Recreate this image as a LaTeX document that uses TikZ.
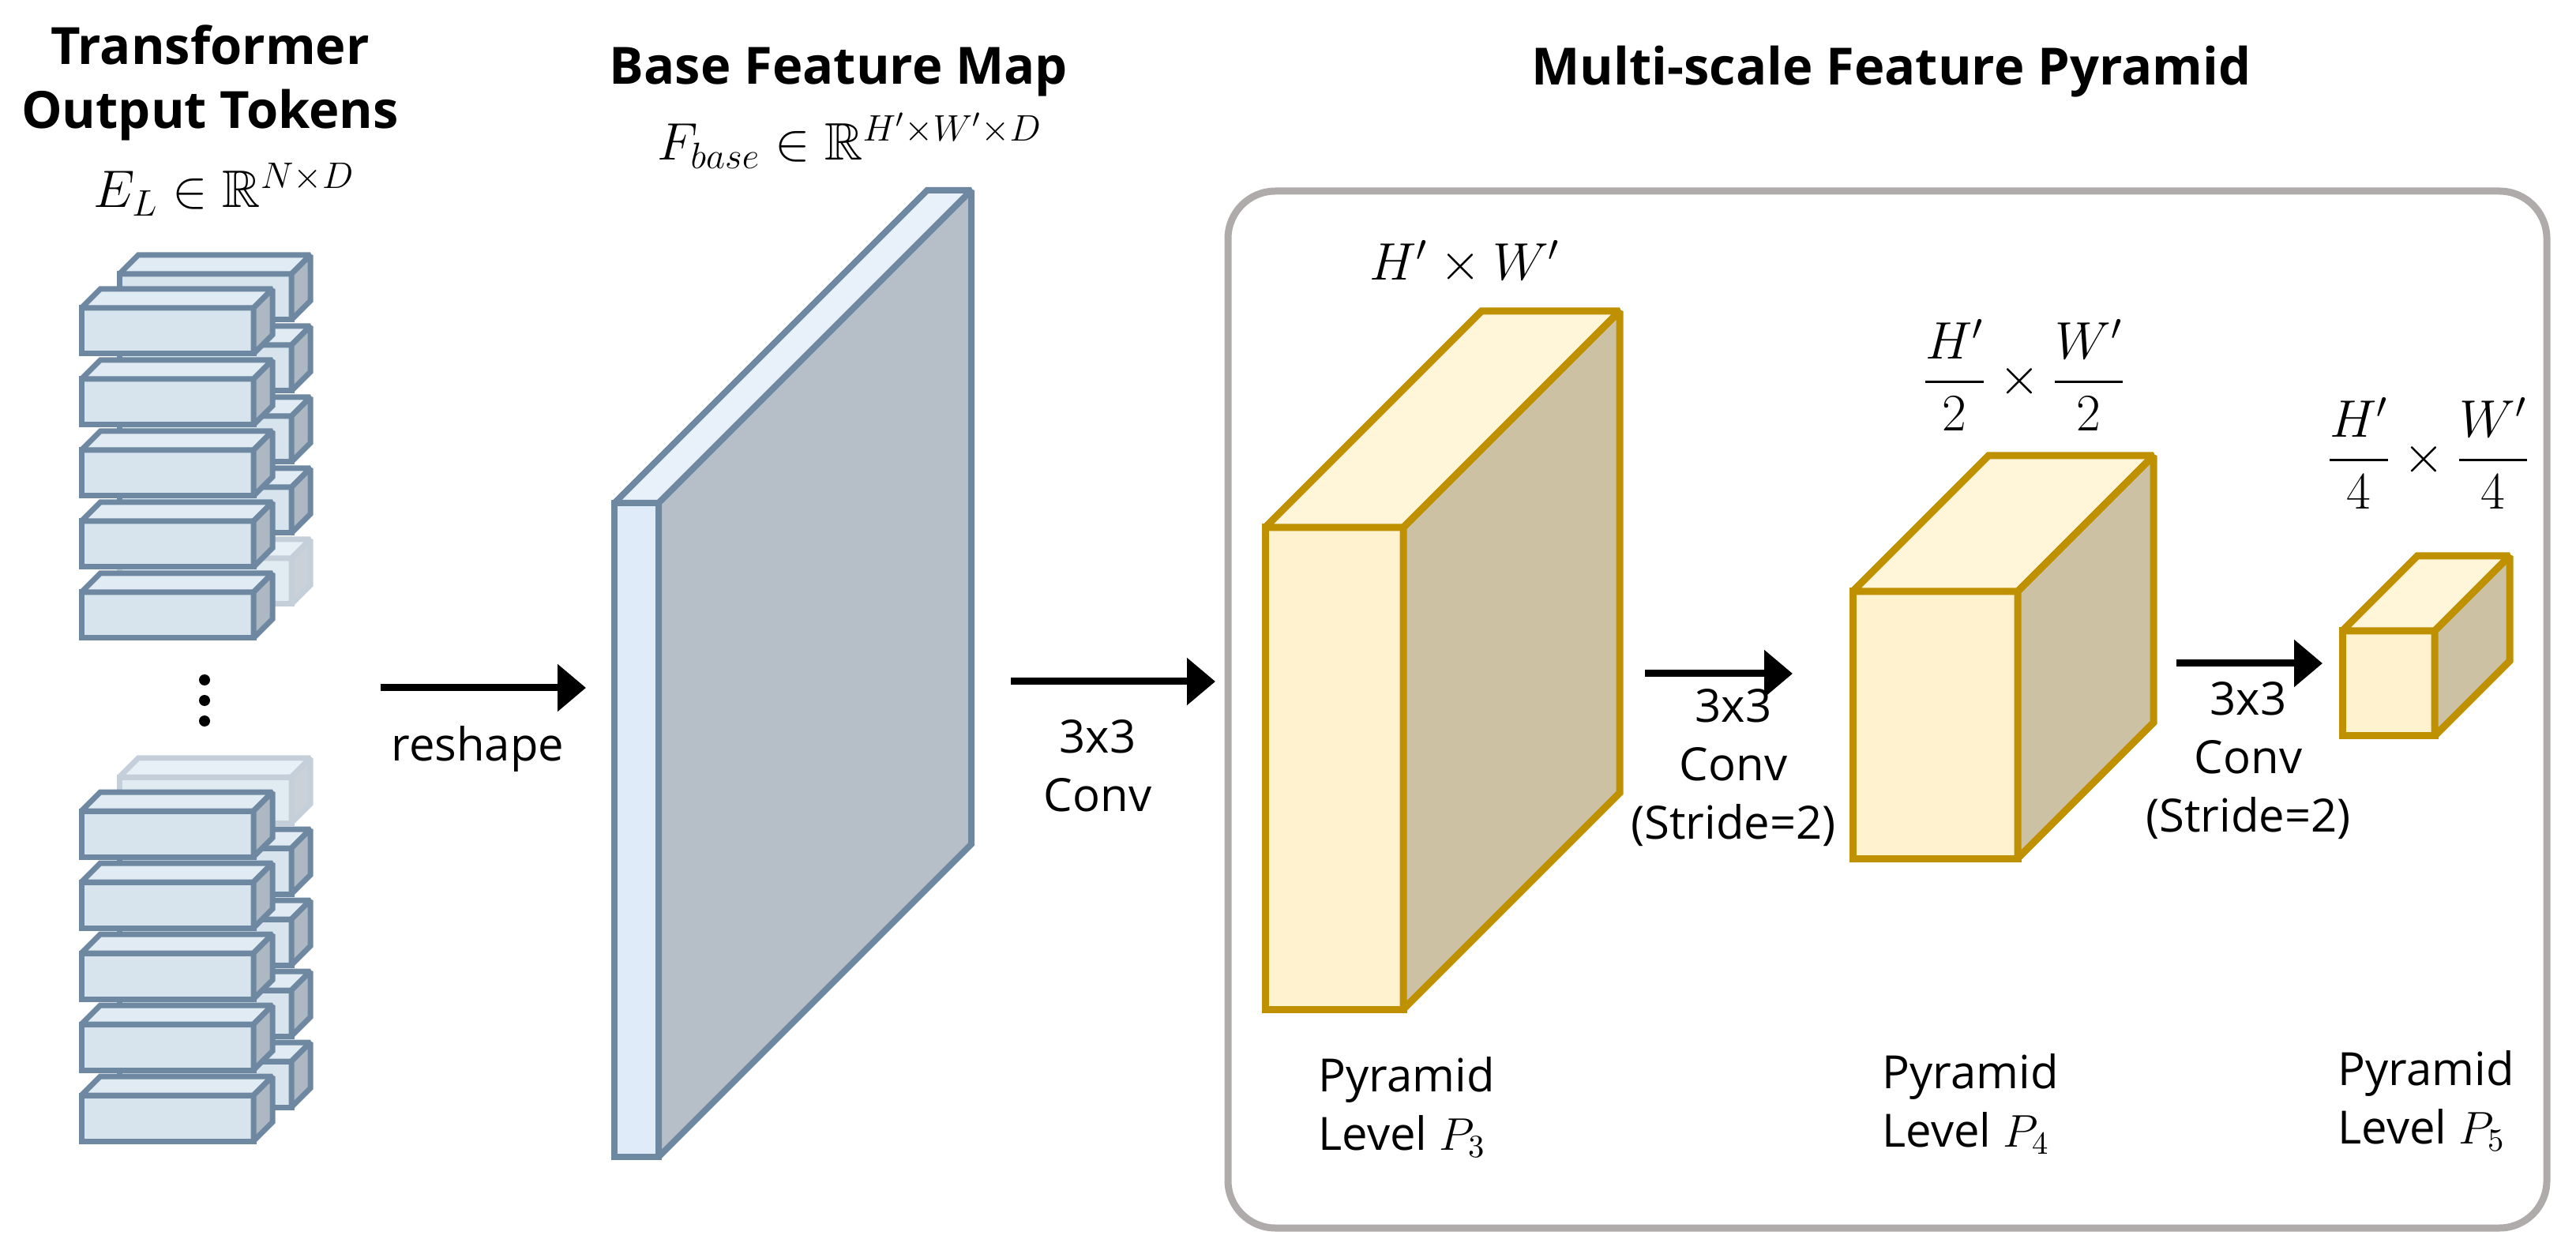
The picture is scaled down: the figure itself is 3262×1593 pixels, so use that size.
\documentclass[tikz,border=0pt]{standalone}
\usepackage{fix-cm}
\usepackage{amsmath,amssymb}
\usepackage[no-math]{fontspec}
\setmainfont{Open Sans}
\usetikzlibrary{arrows.meta}

\definecolor{tokline}{HTML}{6F88A1}
\definecolor{tokfront}{HTML}{D7E4EE}
\definecolor{toktop}{HTML}{E1EBF4}
\definecolor{tokside}{HTML}{ADB8C3}
\definecolor{mapfront}{HTML}{DFEBF8}
\definecolor{maptop}{HTML}{E8F0F9}
\definecolor{mapside}{HTML}{B6BEC7}
\definecolor{pyrline}{HTML}{BF9000}
\definecolor{pyrfront}{HTML}{FFF2CF}
\definecolor{pyrtop}{HTML}{FFF5D9}
\definecolor{pyrside}{HTML}{CCC2A3}
\definecolor{boxline}{HTML}{AFABAB}

\tikzset{
  face/.style={miter limit=2},
  tok front/.style={face, draw=tokline, fill=tokfront, line width=0.7mm},
  tok top/.style={face, draw=tokline, fill=toktop, line width=0.7mm},
  tok side/.style={face, draw=tokline, fill=tokside, line width=0.7mm},
  fad front/.style={face, draw=tokline!40, fill=tokfront!75, line width=0.7mm},
  fad top/.style={face, draw=tokline!40, fill=toktop!75, line width=0.7mm},
  fad side/.style={face, draw=tokline!40, fill=tokside!65, line width=0.7mm},
  map front/.style={face, draw=tokline, fill=mapfront, line width=0.8mm},
  map top/.style={face, draw=tokline, fill=maptop, line width=0.8mm},
  map side/.style={face, draw=tokline, fill=mapside, line width=0.8mm},
  pyr front/.style={face, draw=pyrline, fill=pyrfront, line width=0.9mm},
  pyr top/.style={face, draw=pyrline, fill=pyrtop, line width=0.9mm},
  pyr side/.style={face, draw=pyrline, fill=pyrside, line width=0.9mm},
  flow/.style={-{Triangle[length=3.6mm,width=5.8mm]}, line width=0.9mm},
  ttl/.style={font=\fontsize{18.5}{22.8}\selectfont\bfseries, align=center, inner sep=0pt},
  lbl/.style={font=\fontsize{16.5}{21}\selectfont, align=center, inner sep=0pt},
  mth/.style={font=\fontsize{19}{22}\selectfont, inner sep=0pt}
}

% style prefix, x, y (front top left), width, height, depth
\newcommand{\cuboid}[6]{%
  \draw[#1 front] (#2,#3) rectangle ++(#4,#5);
  \draw[#1 top] (#2,#3) -- ++(#6,-#6) -- ++(#4,0) -- ++(-#6,#6) -- cycle;
  \draw[#1 side] (#2+#4,#3) -- ++(#6,-#6) -- ++(0,#5) -- ++(-#6,#6) -- cycle;
}

\begin{document}
\begin{tikzpicture}[x=0.1mm, y=-0.1mm]
\useasboundingbox (0,0) rectangle (3262,1593);

% titles
\node[ttl] (ttok) at (266,105) {Transformer\\Output Tokens};
\node[mth, anchor=base] (etok) at (284,263) {$E_L\in\mathbb{R}^{N\times D}$};
\node[ttl, anchor=base] (tmap) at (1062,107) {Base Feature Map};
\node[mth, anchor=base] (emap) at (1076,203) {$F_{base}\in\mathbb{R}^{H'\times W'\times D}$};
\node[ttl, anchor=base] (tpyr) at (2395,108) {Multi-scale Feature Pyramid};

% token stacks
\foreach \k in {0,...,3} {\cuboid{tok}{151}{347+90*\k}{218}{58}{24}}
\cuboid{fad}{151}{707}{218}{58}{24}
\foreach \k in {0,...,4} {\cuboid{tok}{103}{390+90*\k}{218}{58}{24}}
\foreach \y in {861,887,913} \fill (259,\y) circle[radius=7];
\cuboid{fad}{151}{984}{218}{58}{24}
\foreach \k in {1,...,4} {\cuboid{tok}{151}{984+90*\k}{218}{58}{24}}
\foreach \k in {0,...,4} {\cuboid{tok}{103}{1027+90*\k}{218}{58}{24}}

% base feature map
\cuboid{map}{778}{637}{56}{828}{396}

% pyramid
\draw[boxline, line width=0.9mm, rounded corners=6mm] (1555,242) rectangle (3225,1555);
\cuboid{pyr}{1602}{668}{175}{610}{274}
\cuboid{pyr}{2346}{749}{209}{338}{172}
\cuboid{pyr}{2966}{799}{117}{133}{95}

\node[mth, anchor=base] (sp3) at (1855,355) {$H'\times W'$};
\node[mth, anchor=base] (sp4) at (2563,500) {$\dfrac{H'}{2}\times\dfrac{W'}{2}$};
\node[mth, anchor=base] (sp5) at (3075,599) {$\dfrac{H'}{4}\times\dfrac{W'}{4}$};

\node[lbl, align=left, anchor=north west] (lp3) at (1669,1338) {Pyramid\\Level $P_3$};
\node[lbl, align=left, anchor=north west] (lp4) at (2383,1334) {Pyramid\\Level $P_4$};
\node[lbl, align=left, anchor=north west] (lp5) at (2960,1330) {Pyramid\\Level $P_5$};

% arrows
\coordinate (rsA) at (482,871);
\coordinate (rsB) at (742,871);
\coordinate (cvA) at (1280,863);
\coordinate (cvB) at (1539,863);
\coordinate (s1A) at (2083,853);
\coordinate (s1B) at (2270,853);
\coordinate (s2A) at (2756,840);
\coordinate (s2B) at (2941,840);
\draw[flow] (rsA) -- (rsB);
\draw[flow] (cvA) -- (cvB);
\draw[flow] (s1A) -- (s1B);
\draw[flow] (s2A) -- (s2B);
\node[lbl, anchor=base] (lrs) at (605,964) {reshape};
\node[lbl, anchor=north] (lcv) at (1390,911) {3x3\\Conv};
\node[lbl, anchor=north] (ls1) at (2195,872) {3x3\\Conv\\(Stride=2)};
\node[lbl, anchor=north] (ls2) at (2847,863) {3x3\\Conv\\(Stride=2)};
\end{tikzpicture}
\end{document}
